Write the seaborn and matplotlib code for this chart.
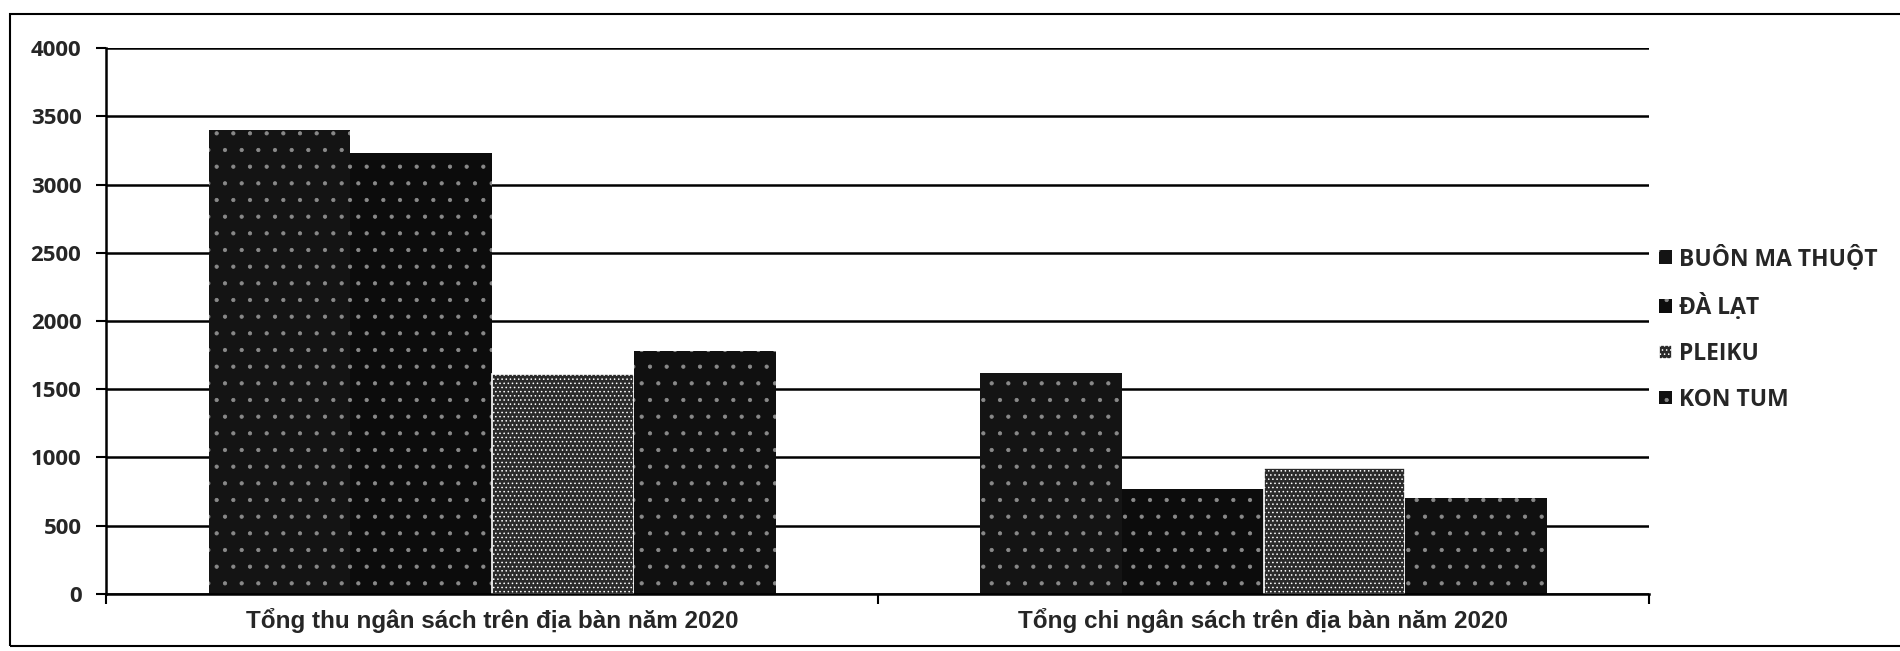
import pandas as pd
import numpy as np
import matplotlib
matplotlib.use("Agg")
import matplotlib.pyplot as plt
import matplotlib.patches as mpatches
import seaborn as sns

# values
categories = ["Tổng thu ngân sách trên địa bàn năm 2020",
              "Tổng chi ngân sách trên địa bàn năm 2020"]
cities = ["BUÔN MA THUỘT", "ĐÀ LẠT", "PLEIKU", "KON TUM"]
buon_ma_thuot = [3400, 1620]
da_lat = [3230, 770]
pleiku = [1610, 920]
kon_tum = [1780, 700]
y_ticks = [0, 500, 1000, 1500, 2000, 2500, 3000, 3500, 4000]

df = pd.DataFrame({
    "category": categories * 4,
    "city": np.repeat(cities, 2),
    "value": buon_ma_thuot + da_lat + pleiku + kon_tum,
})

sns.set_style("white")
plt.rcParams["font.family"] = ["Open Sans", "DejaVu Sans"]
plt.rcParams["hatch.linewidth"] = 0.6

fig = plt.figure(figsize=(19, 6.51), dpi=100)
ax = fig.add_axes([0.056, 0.088, 0.812, 0.838])

palette = {"BUÔN MA THUỘT": "#141414", "ĐÀ LẠT": "#0c0c0c",
           "PLEIKU": "#2a2a2a", "KON TUM": "#101010"}
sns.barplot(data=df, x="category", y="value", hue="city", hue_order=cities,
            palette=palette, width=0.735, gap=0, saturation=1,
            legend=False, ax=ax, linewidth=0)

# speckled look of the scan
for i, cont in enumerate(ax.containers):
    for p in cont.patches:
        if i == 2:
            p.set_hatch("....")
            p.set_edgecolor("white")
            p.set_linewidth(1.2)
        else:
            p.set_hatch(".")
            p.set_edgecolor("#8a8a8a")
            p.set_linewidth(0)

ax.set_ylim(0, 4000)
ax.set_xlim(-0.5, 1.5)
ax.set_yticks(y_ticks)
ax.yaxis.grid(True, color="black", linewidth=1.8)
ax.set_axisbelow(True)
ax.set_xlabel("")
ax.set_ylabel("")

for side in ["top", "right"]:
    ax.spines[side].set_visible(False)
for side in ["left", "bottom"]:
    ax.spines[side].set_color("black")
    ax.spines[side].set_linewidth(1.8)

ax.tick_params(axis="y", length=7, width=1.5, color="black", pad=11,
               left=True, labelsize=16)
for t in ax.get_yticklabels():
    t.set_fontweight("bold")

ax.set_xticks([-0.5, 0.5, 1.5], minor=True)
ax.tick_params(axis="x", which="minor", length=7, width=1.5, color="black",
               bottom=True)
ax.tick_params(axis="x", which="major", length=0, pad=10)
ax.set_xticks([0, 1])
ax.set_xticklabels(categories, fontsize=17.5, fontweight="bold",
                   family=["Liberation Sans", "DejaVu Sans"])

leg = ax.legend(ax.containers, cities, loc="center left",
                bbox_to_anchor=(0.993, 0.486), frameon=False,
                handlelength=0.55, handleheight=0.55, handletextpad=0.3,
                labelspacing=0.95, prop={"size": 16.5, "weight": "bold"})

# scanned frame around the chart
fig.patches.append(mpatches.Rectangle((0.005, 0.008), 1.2, 0.97,
                                      transform=fig.transFigure,
                                      fill=False, edgecolor="black",
                                      linewidth=1.5))

fig.savefig("out.png", dpi=100)
